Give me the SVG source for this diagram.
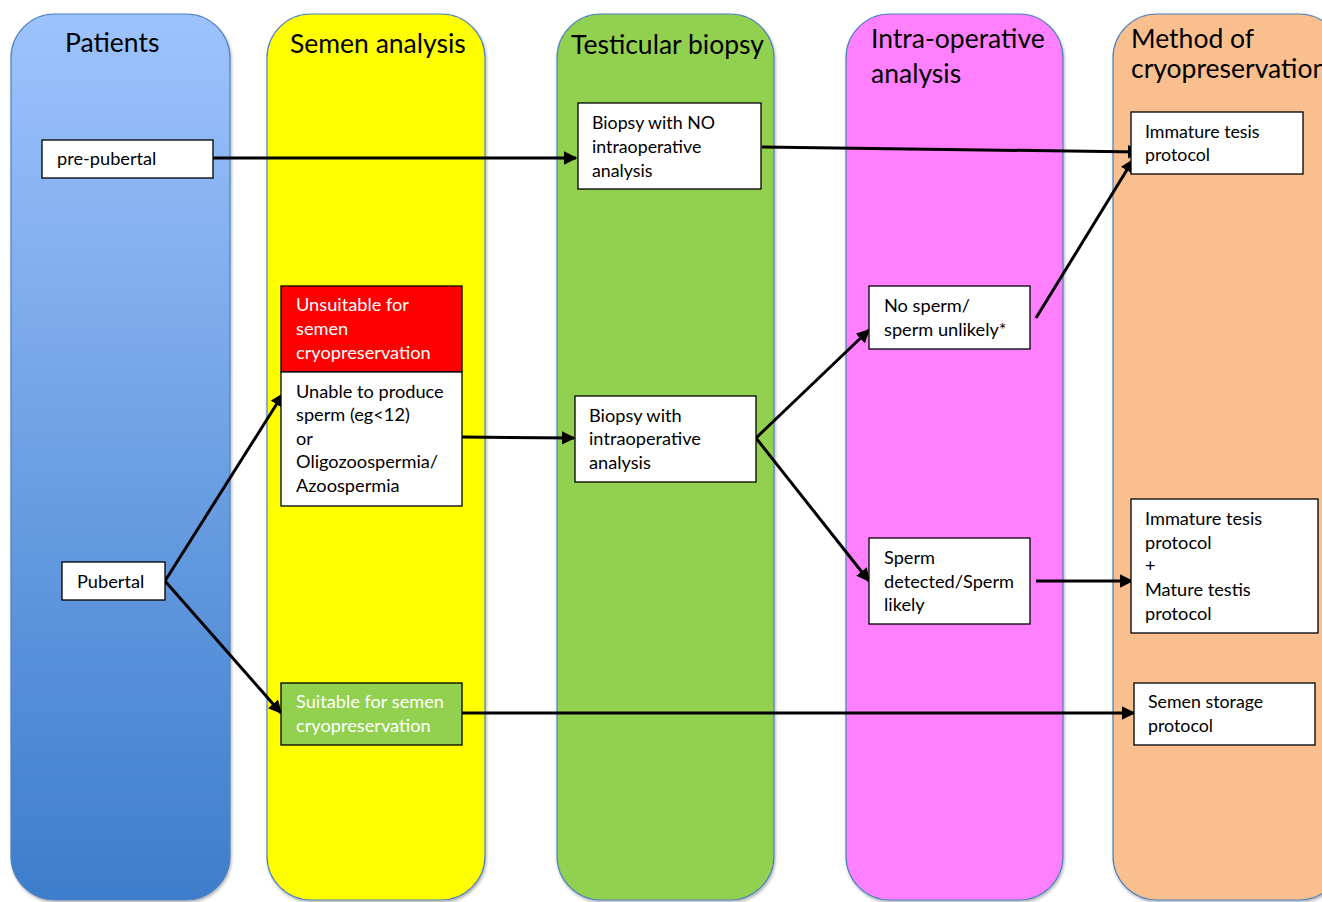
<svg xmlns="http://www.w3.org/2000/svg" width="1322" height="902" viewBox="0 0 1322 902">
<style>
.col{stroke:#4f81bd;stroke-width:1.2}
.hd{font-family:Lato,"Liberation Sans",sans-serif;font-size:26.5px;fill:#000}
.box{fill:#fff;stroke:#000;stroke-width:1.3}
.t{font-family:Lato,"Liberation Sans",sans-serif;font-size:18.2px;fill:#000}
.tn{font-family:Lato,"Liberation Sans",sans-serif;font-size:17.8px;fill:#000}
.tw{font-family:Lato,"Liberation Sans",sans-serif;font-size:18.2px;fill:#fff}
.c{stroke:#000;stroke-width:3;fill:none;marker-end:url(#ah)}
</style>
<defs>
<linearGradient id="gblue" x1="0" y1="0" x2="0" y2="1">
<stop offset="0" stop-color="#9dc3fd"/>
<stop offset="1" stop-color="#3d7dcb"/>
</linearGradient>
<marker id="ah" viewBox="0 0 10 10" refX="9" refY="5" markerWidth="4.5" markerHeight="4.5" orient="auto" markerUnits="strokeWidth">
<path d="M0,0 L10,5 L0,10 z" fill="#000"/>
</marker>
<filter id="sh" x="-5%" y="-5%" width="110%" height="110%">
<feDropShadow dx="1" dy="2" stdDeviation="1.5" flood-color="#000" flood-opacity="0.3"/>
</filter>
</defs>
<rect width="1322" height="902" fill="#fff"/>
<g id="col-patients"><rect class="col" x="11" y="14" width="219" height="886" rx="44" fill="url(#gblue)" filter="url(#sh)"/><text class="hd" x="65" y="52">Patients</text></g>
<g id="col-semen"><rect class="col" x="267" y="14" width="218" height="886" rx="44" fill="#ffff00" filter="url(#sh)"/><text class="hd" x="290" y="53">Semen analysis</text></g>
<g id="col-biopsy"><rect class="col" x="557" y="14" width="217" height="886" rx="44" fill="#92d050" filter="url(#sh)"/><text class="hd" x="571" y="54">Testicular biopsy</text></g>
<g id="col-intra"><rect class="col" x="846" y="14" width="217" height="886" rx="44" fill="#ff80ff" filter="url(#sh)"/><text class="hd" x="871" y="48">Intra-operative</text><text class="hd" x="871" y="83">analysis</text></g>
<g id="col-method"><rect class="col" x="1113" y="14" width="230" height="886" rx="44" fill="#f9bf8f" filter="url(#sh)"/><text class="hd" x="1131" y="48">Method of</text><text class="hd" x="1131" y="78">cryopreservation</text></g>

<g id="connectors">
<line class="c" x1="213" y1="158" x2="576" y2="158"/>
<line class="c" x1="762" y1="147" x2="1140" y2="152"/>
<line class="c" x1="1036" y1="318" x2="1133" y2="160"/>
<line class="c" x1="165" y1="581" x2="283" y2="394"/>
<line class="c" x1="165" y1="581" x2="281" y2="713"/>
<line class="c" x1="462" y1="437" x2="574" y2="438"/>
<line class="c" x1="756" y1="438" x2="869" y2="330"/>
<line class="c" x1="756" y1="438" x2="869" y2="581"/>
<line class="c" x1="1036" y1="581" x2="1132" y2="581"/>
<line class="c" x1="462" y1="713" x2="1134" y2="713"/>
</g>

<g id="n-prepubertal"><rect class="box" x="42" y="140" width="171" height="38"/><text class="t" x="57" y="165">pre-pubertal</text></g>
<g id="n-pubertal"><rect class="box" x="62" y="562" width="103" height="38"/><text class="t" x="77" y="588">Pubertal</text></g>
<g id="n-biopsy-no"><rect class="box" x="578" y="103" width="183" height="86"/><text class="tn" x="592" y="129">Biopsy with NO</text><text class="tn" x="592" y="153">intraoperative</text><text class="tn" x="592" y="177">analysis</text></g>
<g id="n-immature-top"><rect class="box" x="1131" y="112" width="172" height="62"/><text class="tn" x="1145" y="138">Immature tesis</text><text class="tn" x="1145" y="161">protocol</text></g>
<g id="n-unsuitable"><rect x="281" y="286" width="181" height="86" fill="#ff0000" stroke="#000" stroke-width="1.3"/><text class="tw" x="296" y="311">Unsuitable for</text><text class="tw" x="296" y="335">semen</text><text class="tw" x="296" y="359">cryopreservation</text></g>
<g id="n-unable"><rect class="box" x="281" y="372" width="181" height="134"/><text class="t" x="296" y="398">Unable to produce</text><text class="t" x="296" y="421">sperm (eg&lt;12)</text><text class="t" x="296" y="445">or</text><text class="t" x="296" y="468">Oligozoospermia/</text><text class="t" x="296" y="492">Azoospermia</text></g>
<g id="n-biopsy-with"><rect class="box" x="575" y="396" width="181" height="86"/><text class="t" x="589" y="422">Biopsy with</text><text class="t" x="589" y="445">intraoperative</text><text class="t" x="589" y="469">analysis</text></g>
<g id="n-nosperm"><rect class="box" x="869" y="286" width="161" height="63"/><text class="t" x="884" y="312">No sperm/</text><text class="t" x="884" y="336">sperm unlikely*</text></g>
<g id="n-sperm-detected"><rect class="box" x="869" y="538" width="161" height="86"/><text class="t" x="884" y="564">Sperm</text><text class="t" x="884" y="588">detected/Sperm</text><text class="t" x="884" y="611">likely</text></g>
<g id="n-immature-mature"><rect class="box" x="1131" y="499" width="187" height="134"/><text class="t" x="1145" y="525">Immature tesis</text><text class="t" x="1145" y="549">protocol</text><text class="t" x="1145" y="572">+</text><text class="t" x="1145" y="596">Mature testis</text><text class="t" x="1145" y="620">protocol</text></g>
<g id="n-suitable"><rect x="281" y="683" width="181" height="62" fill="#92d050" stroke="#000" stroke-width="1.3"/><text class="tw" x="296" y="708" fill="#f2f2f2">Suitable for semen</text><text class="tw" x="296" y="732">cryopreservation</text></g>
<g id="n-semen-storage"><rect class="box" x="1134" y="683" width="181" height="62"/><text class="tn" x="1148" y="708">Semen storage</text><text class="tn" x="1148" y="732">protocol</text></g>
</svg>
